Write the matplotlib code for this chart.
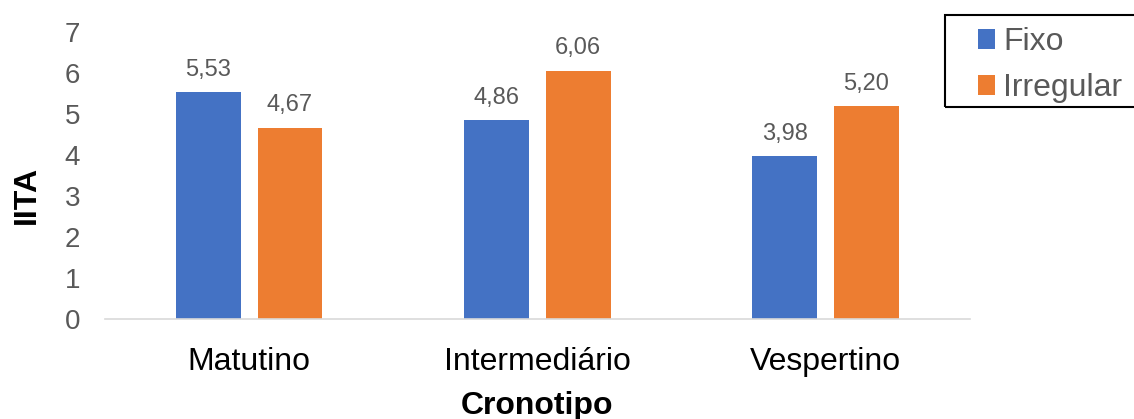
import matplotlib.pyplot as plt
from matplotlib.patches import Rectangle
import numpy as np

plt.rcParams['font.family'] = ['Liberation Sans', 'DejaVu Sans']

# 数据
cronotipos = ['Matutino', 'Intermediário', 'Vespertino']
fixo = [5.53, 4.86, 3.98]
irregular = [4.67, 6.06, 5.20]

cor_fixo = '#4472C4'
cor_irregular = '#ED7D31'
cinza = '#595959'

fig = plt.figure(figsize=(11.34, 4.19), dpi=100)
ax = fig.add_axes([0.0926, 0.2387, 0.7624, 0.685])

x = np.arange(len(cronotipos))
largura = 0.225
desloc = 0.142

b1 = ax.bar(x - desloc, fixo, largura, color=cor_fixo, label='Fixo')
b2 = ax.bar(x + desloc, irregular, largura, color=cor_irregular, label='Irregular')

# 数值标签（逗号作小数点）
for barras in (b1, b2):
    for b in barras:
        h = b.get_height()
        ax.annotate(f'{h:.2f}'.replace('.', ','),
                    (b.get_x() + b.get_width() / 2, h),
                    xytext=(0, 8), textcoords='offset points',
                    ha='center', va='bottom', fontsize=17, color=cinza)

ax.set_xlim(-0.5, 2.5)
ax.set_ylim(0, 7)
ax.set_yticks(range(8))
ax.set_xticks(x)
ax.set_xticklabels(cronotipos, fontsize=23, color='black')
ax.tick_params(axis='y', length=0, labelsize=20, labelcolor=cinza, pad=18)
ax.tick_params(axis='x', length=0, pad=20)

for s in ['top', 'right', 'left']:
    ax.spines[s].set_visible(False)
ax.spines['bottom'].set_color('#D9D9D9')
ax.spines['bottom'].set_linewidth(1.2)

ax.set_xlabel('Cronotipo', fontsize=23, fontweight='bold', labelpad=10)
ax.set_ylabel('IITA', fontsize=23, fontweight='bold', labelpad=16)
ax.yaxis.label.set_y(0.432)

# 图例：无边框，外框单独画
leg = fig.legend(loc='upper left', bbox_to_anchor=(0.862, 0.935),
                 fontsize=23, frameon=False,
                 handlelength=0.55, handleheight=0.55, handletextpad=0.25,
                 labelspacing=0.5, borderpad=0, borderaxespad=0,
                 labelcolor=cinza)
fig.add_artist(Rectangle((945 / 1134, 1 - 107 / 419), 0.2, 92 / 419,
                         transform=fig.transFigure, fill=False,
                         edgecolor='black', linewidth=1.5))

fig.savefig('out.png', dpi=100)
